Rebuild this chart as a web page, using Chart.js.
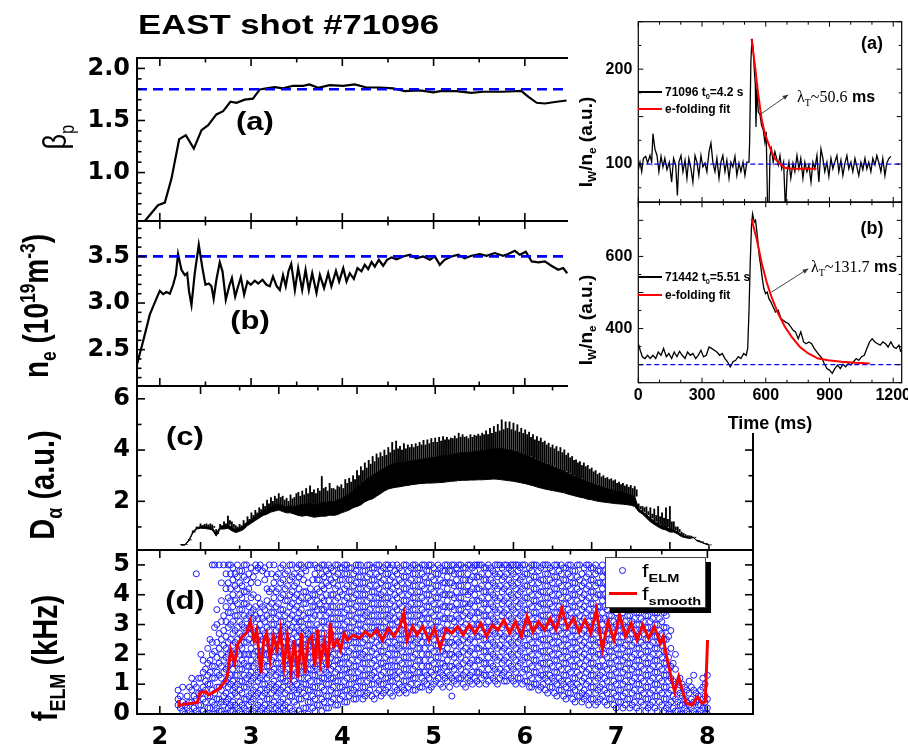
<!DOCTYPE html>
<html><head><meta charset="utf-8">
<script src="https://cdn.jsdelivr.net/npm/chart.js@4.4.1/dist/chart.umd.min.js"></script>
<style>
html,body{margin:0;padding:0;background:#fff;}
#wrap{position:relative;width:908px;height:748px;overflow:hidden;background:#fff;}
canvas{position:absolute;}
.t{position:absolute;white-space:nowrap;font-family:"Liberation Sans",Arial,sans-serif;color:#000;line-height:1;z-index:5;}
.t sub,.t sup{font-size:62%;line-height:0;}
.ln{position:absolute;z-index:5;}
</style></head><body><div id="wrap">
<canvas id="cA" width="760" height="203" style="left:0;top:38px;z-index:1"></canvas>
<canvas id="cB" width="760" height="205" style="left:0;top:201px;z-index:1"></canvas>
<canvas id="cC" width="760" height="204" style="left:0;top:366px;z-index:1"></canvas>
<canvas id="cD" width="760" height="218" style="left:0;top:530px;z-index:1"></canvas>
<div style="position:absolute;left:568px;top:0;width:340px;height:433px;background:#fff;z-index:2"></div>
<canvas id="iA" width="333" height="215" style="left:575px;top:0;z-index:3"></canvas>
<canvas id="iB" width="333" height="250" style="left:575px;top:190px;z-index:3"></canvas>

<div class="t" style="left:138px;top:25px;font-size:28px;font-weight:bold;transform:translateY(-50%) scaleX(1.24);transform-origin:left center;">EAST shot #71096</div>
<div class="t" style="left:255px;top:121px;font-size:25px;font-weight:bold;transform:translate(-50%,-50%) scaleX(1.24);">(a)</div>
<div class="t" style="left:250px;top:320px;font-size:25px;font-weight:bold;transform:translate(-50%,-50%) scaleX(1.24);">(b)</div>
<div class="t" style="left:185px;top:436px;font-size:25px;font-weight:bold;transform:translate(-50%,-50%) scaleX(1.24);">(c)</div>
<div class="t" style="left:185px;top:600px;font-size:25px;font-weight:bold;transform:translate(-50%,-50%) scaleX(1.24);">(d)</div>

<div class="t" style="left:56px;top:137px;font-size:27px;transform:translate(-50%,-50%) scaleX(1.2) rotate(-90deg);">β<sub>p</sub></div>
<div class="t" style="left:37px;top:306px;font-size:28px;font-weight:bold;transform:translate(-50%,-50%) scaleX(1.24) rotate(-90deg);">n<sub>e</sub> (10<sup>19</sup>m<sup>-3</sup>)</div>
<div class="t" style="left:42px;top:485px;font-size:29px;font-weight:bold;transform:translate(-50%,-50%) scaleX(1.24) rotate(-90deg);">D<sub>α</sub> (a.u.)</div>
<div class="t" style="left:45px;top:658px;font-size:29px;font-weight:bold;transform:translate(-50%,-50%) scaleX(1.24) rotate(-90deg);">f<sub>ELM</sub> (kHz)</div>

<div class="t" style="left:585px;top:142px;font-size:19px;font-weight:bold;transform:translate(-50%,-50%) rotate(-90deg);">I<sub>W</sub>/n<sub>e</sub> (a.u.)</div>
<div class="t" style="left:585px;top:320px;font-size:19px;font-weight:bold;transform:translate(-50%,-50%) rotate(-90deg);">I<sub>W</sub>/n<sub>e</sub> (a.u.)</div>
<div class="t" style="left:872px;top:43px;font-size:18px;font-weight:bold;transform:translate(-50%,-50%);">(a)</div>
<div class="t" style="left:872px;top:228px;font-size:18px;font-weight:bold;transform:translate(-50%,-50%);">(b)</div>

<div class="ln" style="left:638px;top:91px;width:24px;height:1.6px;background:#000"></div>
<div class="t" style="left:665px;top:92px;font-size:12px;font-weight:bold;transform:translateY(-50%);">71096 t<sub>0</sub>=4.2 s</div>
<div class="ln" style="left:638px;top:108px;width:24px;height:2.2px;background:#ff0000"></div>
<div class="t" style="left:665px;top:109px;font-size:12px;font-weight:bold;transform:translateY(-50%);">e-folding fit</div>
<div class="ln" style="left:638px;top:276px;width:24px;height:1.6px;background:#000"></div>
<div class="t" style="left:665px;top:277px;font-size:12px;font-weight:bold;transform:translateY(-50%);">71442 t<sub>0</sub>=5.51 s</div>
<div class="ln" style="left:638px;top:294px;width:24px;height:2.2px;background:#ff0000"></div>
<div class="t" style="left:665px;top:295px;font-size:12px;font-weight:bold;transform:translateY(-50%);">e-folding fit</div>
<div class="t" style="left:797px;top:97px;font-size:16px;transform:translateY(-50%);"><span style="font-family:'Liberation Serif',serif">λ<sub>T</sub>~50.6</span> <b>ms</b></div>
<div class="t" style="left:811px;top:267px;font-size:16px;transform:translateY(-50%);"><span style="font-family:'Liberation Serif',serif">λ<sub>T</sub>~131.7</span> <b>ms</b></div>

<div style="position:absolute;left:605px;top:557px;width:99px;height:49px;background:#fff;border:1px solid #444;box-shadow:5px 5px 0 #000;z-index:4"></div>
<div class="ln" style="left:619px;top:567px;width:5px;height:5px;border:1.3px solid #1a1aff;border-radius:50%"></div>
<div class="t" style="left:642px;top:561px;font-size:19px;transform:scaleX(1.24);transform-origin:left top;">f<sub style="font-weight:bold">ELM</sub></div>
<div class="ln" style="left:609px;top:592px;width:28px;height:3.2px;background:#ff0000"></div>
<div class="t" style="left:642px;top:584px;font-size:19px;transform:scaleX(1.24);transform-origin:left top;">f<sub style="font-weight:bold">smooth</sub></div>
</div>
<script>
// ---------------- DATA ----------------
const xRange = [1.75, 8.5];
const timeTicks = [2, 3, 4, 5, 6, 7, 8];
const betaTicks = [1.0, 1.5, 2.0];
const neTicks = [2.5, 3.0, 3.5];
const daTicks = [2, 4, 6];
const fTicks = [0, 1, 2, 3, 4, 5];
const insTimeTicks = [0, 300, 600, 900, 1200];
const insATicks = [100, 200];
const insBTicks = [400, 600];
const betaRef = 1.8;
const neRef = 3.5;
const insABase = 100;
const insBBase = 300;

const betaP = [[1.836,0.535],[1.98,0.686],[2.055,0.712],[2.128,0.942],[2.212,1.32],[2.285,1.359],[2.373,1.23],[2.457,1.407],[2.53,1.455],[2.62,1.558],[2.694,1.59],[2.774,1.68],[2.84,1.67],[2.93,1.70],[3.02,1.71],[3.096,1.798],[3.17,1.808],[3.26,1.82],[3.35,1.808],[3.46,1.833],[3.57,1.833],[3.64,1.846],[3.735,1.814],[3.86,1.84],[4.01,1.833],[4.137,1.846],[4.265,1.817],[4.41,1.817],[4.557,1.808],[4.685,1.782],[4.85,1.79],[5.0,1.77],[5.087,1.785],[5.25,1.782],[5.415,1.766],[5.54,1.776],[5.76,1.776],[5.96,1.785],[6.04,1.727],[6.13,1.67],[6.22,1.663],[6.35,1.68],[6.457,1.692]];

const neVals = [[1.744,2.32],[1.817,2.59],[1.89,2.875],[1.964,3.05],[2.0,3.13],[2.037,3.096],[2.073,3.118],[2.11,3.10],[2.146,3.196],[2.175,3.30],[2.20,3.525],[2.237,3.357],[2.274,3.30],[2.30,3.32],[2.32,3.125],[2.347,2.98],[2.383,3.32],[2.427,3.625],[2.467,3.375],[2.50,3.196],[2.537,3.21],[2.566,3.18],[2.59,3.046],[2.62,3.25],[2.657,3.436],[2.687,3.34],[2.723,3.036],[2.76,3.18],[2.79,3.268],[2.826,3.07],[2.858,3.18],[2.888,3.275],[2.924,3.09],[2.96,3.23],[2.997,3.196],[3.04,3.24],[3.078,3.21],[3.125,3.25],[3.169,3.196],[3.205,3.18],[3.24,3.285],[3.28,3.18],[3.315,3.14],[3.35,3.30],[3.38,3.18],[3.41,3.34],[3.44,3.42],[3.48,3.14],[3.516,3.375],[3.56,3.14],[3.597,3.357],[3.633,3.14],[3.67,3.32],[3.717,3.107],[3.754,3.30],[3.80,3.16],[3.845,3.32],[3.88,3.18],[3.93,3.345],[3.965,3.23],[4.01,3.375],[4.046,3.23],[4.082,3.32],[4.126,3.26],[4.166,3.375],[4.21,3.34],[4.246,3.41],[4.283,3.364],[4.32,3.44],[4.356,3.39],[4.40,3.464],[4.447,3.40],[4.49,3.464],[4.54,3.49],[4.594,3.47],[4.667,3.50],[4.74,3.518],[4.81,3.48],[4.886,3.50],[4.96,3.464],[5.014,3.50],[5.068,3.41],[5.12,3.464],[5.196,3.50],[5.27,3.518],[5.34,3.48],[5.415,3.507],[5.507,3.525],[5.58,3.507],[5.67,3.536],[5.763,3.507],[5.817,3.525],[5.89,3.56],[5.945,3.518],[6.01,3.55],[6.075,3.446],[6.15,3.436],[6.22,3.446],[6.29,3.40],[6.366,3.357],[6.42,3.375],[6.464,3.32]];

// D_alpha: [time, bottom, solid top, spike at t, spike at t+0.025]
const dAlpha = [[1.75,.29,.31,.31,.31],[1.80,.29,.31,.31,.31],[1.85,.45,.49,.51,.5],[1.90,.75,.8,.85,.82],[1.95,.92,.97,1.0,.98],[2.00,.95,1.02,1.12,1.06],[2.05,.94,1.02,1.1,1.12],[2.10,.92,1.0,1.08,1.12],[2.15,.88,.98,1.08,1.02],[2.20,.64,.74,.9,.82],[2.25,.92,1.0,1.1,1.05],[2.30,.92,1.02,1.2,1.12],[2.35,.95,1.1,1.42,1.25],[2.40,.85,.98,1.2,1.1],[2.45,.78,.9,1.05,1.0],[2.50,.83,.95,1.1,1.05],[2.55,.9,1.05,1.25,1.15],[2.60,1.05,1.2,1.4,1.3],[2.65,1.15,1.3,1.55,1.45],[2.70,1.25,1.42,1.65,1.55],[2.75,1.35,1.52,1.75,1.68],[2.80,1.45,1.62,1.9,1.8],[2.85,1.5,1.72,2.05,1.9],[2.90,1.58,1.8,2.15,2.0],[2.95,1.62,1.85,2.2,2.1],[3.00,1.66,1.9,2.3,2.15],[3.05,1.6,1.85,2.2,2.05],[3.10,1.55,1.8,2.12,2.0],[3.15,1.55,1.82,2.25,2.1],[3.20,1.5,1.8,2.15,2.3],[3.25,1.45,1.85,2.35,2.2],[3.30,1.42,1.88,2.4,2.25],[3.35,1.45,1.9,2.5,2.3],[3.40,1.42,1.92,2.6,2.35],[3.45,1.38,1.88,2.45,2.3],[3.50,1.4,1.9,2.5,2.4],[3.55,1.42,1.95,2.97,2.5],[3.60,1.42,1.95,2.55,2.4],[3.65,1.46,2.0,2.7,2.5],[3.70,1.45,1.98,2.5,2.45],[3.75,1.48,2.05,2.6,2.55],[3.80,1.55,2.1,2.65,2.5],[3.85,1.6,2.2,2.85,2.7],[3.90,1.66,2.3,2.9,2.75],[3.95,1.75,2.42,3.0,2.85],[4.00,1.8,2.55,3.2,3.0],[4.05,1.86,2.68,3.35,3.2],[4.10,1.98,2.8,3.5,3.3],[4.15,2.05,2.92,3.6,3.45],[4.20,2.1,3.02,3.75,3.55],[4.25,2.2,3.12,3.85,3.7],[4.30,2.3,3.2,3.9,3.75],[4.35,2.4,3.3,4.0,3.8],[4.40,2.48,3.38,4.1,3.9],[4.45,2.52,3.45,4.3,4.0],[4.50,2.55,3.5,4.35,4.05],[4.55,2.57,3.5,4.15,4.0],[4.60,2.6,3.52,4.25,4.05],[4.65,2.62,3.55,4.2,4.1],[4.70,2.65,3.58,4.22,4.1],[4.75,2.67,3.6,4.25,4.15],[4.80,2.69,3.62,4.3,4.2],[4.85,2.7,3.65,4.38,4.2],[4.90,2.71,3.68,4.4,4.25],[4.95,2.71,3.7,4.45,4.3],[5.00,2.72,3.72,4.47,4.3],[5.05,2.73,3.75,4.5,4.35],[5.10,2.74,3.78,4.53,4.4],[5.15,2.76,3.8,4.5,4.4],[5.20,2.78,3.82,4.47,4.45],[5.25,2.79,3.85,4.55,4.45],[5.30,2.81,3.88,4.66,4.5],[5.35,2.82,3.9,4.6,4.5],[5.40,2.82,3.9,4.53,4.45],[5.45,2.83,3.92,4.6,4.5],[5.50,2.83,3.93,4.58,4.55],[5.55,2.84,3.95,4.62,4.55],[5.60,2.84,3.97,4.66,4.6],[5.65,2.85,4.0,4.75,4.6],[5.70,2.86,4.02,4.85,4.65],[5.75,2.87,4.05,4.92,4.7],[5.80,2.86,4.05,5.0,4.75],[5.85,2.84,4.05,5.18,4.8],[5.90,2.82,4.03,5.1,4.85],[5.95,2.8,4.0,5.1,4.8],[6.00,2.78,3.98,5.05,4.75],[6.05,2.75,3.92,4.99,4.7],[6.10,2.72,3.87,4.85,4.65],[6.15,2.69,3.82,4.79,4.6],[6.20,2.65,3.76,4.7,4.5],[6.25,2.61,3.7,4.6,4.4],[6.30,2.56,3.63,4.53,4.35],[6.35,2.52,3.56,4.47,4.3],[6.40,2.48,3.5,4.35,4.2],[6.45,2.45,3.43,4.27,4.1],[6.50,2.42,3.37,4.2,4.05],[6.55,2.39,3.3,4.14,3.95],[6.60,2.36,3.24,4.1,3.9],[6.65,2.33,3.18,4.01,3.8],[6.70,2.28,3.1,3.88,3.7],[6.75,2.24,3.03,3.75,3.6],[6.80,2.2,2.96,3.62,3.5],[6.85,2.16,2.9,3.55,3.4],[6.90,2.13,2.84,3.5,3.35],[6.95,2.08,2.78,3.4,3.25],[7.00,2.06,2.72,3.3,3.15],[7.05,2.02,2.66,3.2,3.05],[7.10,1.99,2.6,3.1,2.95],[7.15,1.97,2.55,3.0,2.9],[7.20,1.95,2.5,2.93,2.85],[7.25,1.93,2.46,2.88,2.8],[7.30,1.91,2.42,2.84,2.7],[7.35,1.9,2.38,2.75,2.65],[7.40,1.89,2.34,2.7,2.6],[7.45,1.87,2.3,2.65,2.55],[7.50,1.85,2.26,2.62,2.5],[7.55,1.8,2.2,2.58,2.45],[7.60,1.6,1.7,1.9,1.8],[7.65,1.5,1.6,1.8,1.75],[7.70,1.35,1.48,1.78,1.6],[7.75,1.2,1.35,1.75,1.5],[7.80,1.1,1.22,1.7,1.45],[7.85,1.0,1.12,1.8,1.4],[7.90,.92,1.05,1.55,1.35],[7.95,.88,1.0,1.75,1.3],[8.00,.8,.92,1.8,1.2],[8.05,.8,.88,1.2,1.0],[8.10,.72,.8,1.0,.9],[8.15,.62,.7,.8,.75],[8.20,.58,.62,.7,.66],[8.25,.55,.6,.66,.64],[8.30,.58,.59,.6,.6],[8.35,.45,.46,.48,.47],[8.40,.4,.41,.42,.42],[8.45,.34,.35,.35,.35],[8.50,.29,.3,.3,.3]];

const fSmooth = [[2.206,0.47],[2.21,0.28],[2.283,0.34],[2.41,0.38],[2.441,0.72],[2.504,0.75],[2.536,0.64],[2.599,0.75],[2.651,0.86],[2.694,1.01],[2.726,1.14],[2.745,1.36],[2.777,2.15],[2.821,1.70],[2.853,2.32],[2.904,2.60],[2.948,2.71],[2.992,3.10],[3.031,2.48],[3.062,2.82],[3.107,1.36],[3.138,2.48],[3.170,2.71],[3.208,1.81],[3.246,2.60],[3.285,2.15],[3.322,2.82],[3.360,1.59],[3.398,2.60],[3.437,1.42],[3.474,2.48],[3.513,1.20],[3.551,2.71],[3.589,1.36],[3.627,2.48],[3.665,2.60],[3.697,1.59],[3.728,2.82],[3.760,1.70],[3.804,2.48],[3.842,1.53],[3.867,3.06],[3.906,2.26],[3.944,2.48],[3.982,2.15],[4.020,2.71],[4.058,2.48],[4.122,2.65],[4.185,2.54],[4.248,2.76],[4.312,2.60],[4.376,2.82],[4.438,2.48],[4.502,2.87],[4.565,2.60],[4.629,2.93],[4.674,3.38],[4.711,2.48],[4.768,2.93],[4.819,2.65],[4.883,2.93],[4.946,2.48],[5.010,2.87],[5.072,2.20],[5.136,2.87],[5.199,2.71],[5.263,2.93],[5.326,2.65],[5.390,2.99],[5.453,2.71],[5.517,3.04],[5.580,2.60],[5.644,2.99],[5.706,2.82],[5.770,3.15],[5.833,2.71],[5.897,3.10],[5.961,2.60],[6.024,3.27],[6.088,2.76],[6.151,3.10],[6.215,2.82],[6.278,3.21],[6.341,2.82],[6.404,3.55],[6.468,2.87],[6.531,3.21],[6.595,2.76],[6.658,3.15],[6.722,2.71],[6.785,3.49],[6.849,2.15],[6.911,3.10],[6.975,2.48],[7.038,3.32],[7.102,2.60],[7.165,3.04],[7.229,2.48],[7.292,2.99],[7.356,2.54],[7.419,2.93],[7.483,2.37],[7.515,2.60],[7.546,2.04],[7.609,1.14],[7.641,0.75],[7.686,1.25],[7.724,0.81],[7.768,0.36],[7.832,0.30],[7.895,0.58],[7.940,0.36],[7.977,0.41],[8.002,2.48]];

// f_ELM scatter: [time, "values x10"]
const fElmCols = [
[2.20,"3 5 8"],[2.25,"1 4 9"],[2.30,"2 6"],[2.35,"0 4 8 12"],[2.40,"1 5 9 47"],[2.45,"3 7 12 20"],[2.50,"0 4 8 11 15"],[2.55,"2 6 10 14 18 25"],
[2.60,"0 3 7 12 16 21 29 50"],[2.65,"1 5 9 13 17 22 27 50"],[2.70,"0 3 6 10 14 18 23 28 33 50"],[2.75,"2 5 9 12 16 20 24 29 34 39 44 50"],
[2.80,"1 4 8 11 15 19 23 27 31 36 40 45 49"],[2.85,"2 6 10 13 17 21 25 29 33 37 42 46 50"],[2.90,"0 3 7 11 15 18 22 26 30 35 39 43 48"],[2.95,"1 5 9 12 16 20 24 28 32 37 41 45 50"],
[3.00,"0 4 7 11 14 18 22 27 31 34 39 44 49"],[3.05,"2 6 9 13 17 21 25 29 33 36 48 50"],[3.10,"1 4 8 12 15 19 23 26 30 34 37 50"],[3.15,"0 3 7 10 14 18 22 27 31 35 45 49"],
[3.20,"2 5 9 13 16 20 24 28 32 36 41 50"],[3.25,"0 4 8 11 15 19 23 26 30 34 39 44 50"],[3.30,"1 3 7 10 14 17 21 25 29 33 37 42 47"],[3.35,"2 5 9 12 16 20 24 28 31 35 40 45 50"],
[3.40,"0 4 8 11 15 18 22 26 30 34 38 43 48"],[3.45,"1 6 9 13 17 21 25 29 33 37 41 46 50"],[3.50,"3 7 10 14 18 22 26 29 32 36 40 44 49"],[3.55,"0 5 9 12 16 19 23 27 31 35 39 47 50"],
[3.60,"2 6 10 14 17 21 25 28 32 37 41 48"],[3.65,"4 8 11 15 19 23 26 30 34 38 42 50"],[3.70,"1 5 9 13 16 20 24 28 33 36 40 47 50"],[3.75,"3 7 11 14 18 22 25 29 33 37 41 45 49"],
[3.80,"4 8 12 15 19 23 27 31 35 38 42 46 50"],[3.85,"2 6 10 13 17 21 25 30 34 38 43 47 50"],[3.90,"5 9 12 16 20 24 28 32 36 40 44 48"],[3.95,"3 7 11 15 18 22 26 30 34 39 43 47 50"],
[4.00,"6 9 13 17 21 25 28 32 36 40 45 49"],[4.05,"4 8 12 15 19 23 27 31 35 39 43 47 50"],[4.10,"7 10 14 18 22 26 29 33 37 41 45 49"],[4.15,"5 9 12 16 20 24 28 32 36 40 44 48 50"],
[4.20,"7 11 15 19 22 26 30 34 38 42 46 50"],[4.25,"6 9 13 17 21 25 29 33 36 40 44 48"],[4.30,"8 12 15 19 23 27 31 35 39 43 47 50"],[4.35,"5 10 14 18 22 26 29 33 37 41 45 49"],
[4.40,"8 11 15 19 23 27 31 35 39 42 46 50"],[4.45,"7 10 14 17 21 25 29 33 37 41 45 49"],[4.50,"9 12 16 20 24 28 32 35 39 43 47 50"],[4.55,"6 11 14 18 22 26 30 34 38 42 46 50"],
[4.60,"8 12 16 20 23 27 31 35 39 43 47 50"],[4.65,"9 13 17 21 25 28 32 36 40 44 48"],[4.70,"7 11 15 19 23 27 31 35 38 42 46 50"],[4.75,"10 13 17 21 25 29 33 37 41 45 49"],
[4.80,"8 12 16 20 24 27 31 35 39 43 47 50"],[4.85,"9 14 18 22 26 30 33 37 41 45 49"],[4.90,"11 14 18 22 26 30 34 38 42 46 50"],[4.95,"8 12 16 20 24 28 32 36 40 44 48 50"],
[5.00,"10 13 17 21 25 29 33 37 41 45 49"],[5.05,"12 15 19 23 27 31 35 39 43 47 50"],[5.10,"9 13 17 21 24 28 32 36 40 44 48"],[5.15,"11 14 18 22 26 30 34 38 42 46 50"],
[5.20,"6 12 16 20 24 28 32 36 40 44 48 50"],[5.25,"10 13 17 21 25 29 33 37 41 45 49"],[5.30,"12 15 19 23 27 31 35 39 43 47 50"],[5.35,"9 14 18 22 26 30 34 37 41 45 49"],
[5.40,"11 13 17 21 25 29 33 37 41 45 50"],[5.45,"12 16 20 24 28 32 36 40 44 48 50"],[5.50,"10 14 18 22 26 30 34 38 42 46 50"],[5.55,"13 17 21 25 29 33 37 41 45 49"],
[5.60,"11 15 19 23 27 31 35 39 43 47 50"],[5.65,"12 16 20 24 28 32 36 40 44 48"],[5.70,"10 14 18 22 26 30 34 38 42 46 50"],[5.75,"13 17 21 25 29 33 37 41 45 49"],
[5.80,"11 15 19 23 27 31 35 39 43 47 50"],[5.85,"12 16 20 24 28 32 36 40 44 48 50"],[5.90,"10 14 18 22 26 30 34 38 42 46 50"],[5.95,"12 17 21 25 29 33 37 41 45 49"],
[6.00,"11 15 19 23 27 31 35 39 43 47 50"],[6.05,"9 13 17 21 25 29 33 37 41 45 49"],[6.10,"10 14 18 22 26 30 34 38 42 46 50"],[6.15,"8 12 16 20 24 28 32 36 40 44 48"],
[6.20,"10 13 17 21 25 29 33 37 41 45 50"],[6.25,"7 11 15 19 23 27 31 35 39 43 47 50"],[6.30,"9 12 16 20 24 28 32 36 40 44 48"],[6.35,"6 10 14 18 22 26 30 34 38 42 46 50"],
[6.40,"8 11 15 19 23 27 31 35 39 43 47 50"],[6.45,"5 9 13 17 21 25 29 33 37 41 45 49"],[6.50,"7 10 14 18 22 26 30 34 38 42 46 50"],[6.55,"4 8 12 16 20 24 28 32 36 40 44 48"],
[6.60,"6 9 13 17 21 25 29 33 37 41 45 50"],[6.65,"5 8 12 16 20 24 28 32 36 40 44 49"],[6.70,"3 7 11 15 19 23 27 31 35 39 43 47 50"],[6.75,"5 9 13 17 21 25 29 33 37 41 45 49"],
[6.80,"4 8 12 16 20 24 28 32 36 40 44 48"],[6.85,"6 10 14 18 22 26 30 34 38 42 46 50"],[6.90,"3 7 11 15 19 23 27 31 35 39 43 47"],[6.95,"5 9 13 17 21 25 29 33 37 41 45 49"],
[7.00,"2 6 10 14 18 22 26 30 34 38 42 46 50"],[7.05,"4 8 12 16 20 24 28 32 36 40 44 48"],[7.10,"3 7 11 15 19 23 27 31 35 39 43 47 50"],[7.15,"2 5 9 13 17 21 25 29 33 37 41 45"],
[7.20,"4 8 12 16 20 24 28 32 36 40 44 49"],[7.25,"1 6 10 14 18 22 26 30 34 38 42 46"],[7.30,"3 7 11 15 19 23 27 31 35 39 43 48"],[7.35,"2 5 9 13 17 21 25 29 33 37 41 45"],
[7.40,"4 8 12 16 20 24 28 32 36 40 44"],[7.45,"1 6 10 14 18 22 26 30 34 38 42"],[7.50,"3 7 11 15 19 23 27 31 35 40"],[7.55,"2 5 9 13 17 21 25 29 33"],
[7.60,"0 4 8 12 16 22 28"],[7.65,"1 5 10 15 20"],[7.70,"0 3 7 12"],[7.75,"2 5 9"],[7.80,"0 3 7 11"],[7.85,"1 4 8 13"],[7.90,"0 3 6"],[7.95,"2 5 9 12"],[8.00,"0 2 5 13"]
];
const fElmCols2 = [
[2.225,"2 6"],[2.275,"0 3"],[2.325,"1 4 9"],[2.375,"2 6 10"],[2.425,"0 3 7 12"],[2.475,"1 5 9 14 18"],[2.525,"2 6 10 13 17 22"],[2.575,"0 4 8 12 16 20 24 50"],
[2.625,"2 5 9 14 19 24 30 35"],[2.675,"1 4 8 12 16 20 25 31 38 44"],[2.725,"0 4 7 11 15 19 22 26 31 36 42 47"],[2.775,"1 3 6 10 13 17 21 25 30 34 38 42 47 50"],
[2.825,"0 3 7 9 13 17 20 24 28 33 38 43 47"],[2.875,"1 4 8 11 15 20 23 27 31 35 40 44 48"],[2.925,"2 5 9 13 17 20 24 29 33 37 41 46 50"],[2.975,"0 3 6 10 13 16 20 25 29 33 36 42 47"],
[3.025,"1 5 8 12 16 20 24 28 32 35 40 46"],[3.075,"0 3 7 11 14 18 21 25 28 32 39 44 49"],[3.125,"2 6 10 13 17 21 25 28 32 36 48"],[3.175,"1 5 8 12 16 20 24 29 33 38 42 47"],
[3.225,"0 3 7 10 14 18 22 26 30 34 37 42 47"],[3.275,"2 6 9 13 17 21 25 28 32 36 41 46"],[3.325,"0 4 8 12 15 19 23 27 31 35 39 44 49"],[3.375,"1 3 7 11 14 18 22 26 29 33 38 42 47"],
[3.425,"2 6 10 13 17 20 24 28 32 36 40 45 50"],[3.475,"0 4 8 11 15 19 23 27 31 35 39 43 47"],[3.525,"1 5 8 12 16 20 24 28 31 34 38 42 46 50"],[3.575,"2 7 10 14 18 21 25 29 33 37 41 45 49"],
[3.625,"0 4 8 12 15 19 23 27 30 34 39 44 50"],[3.675,"2 6 9 13 17 21 24 28 32 36 40 45"],[3.725,"3 7 11 15 18 22 26 30 35 38 42 45 49"],[3.775,"1 5 9 12 16 20 24 27 31 35 39 43 47 50"],
[3.825,"2 6 10 14 17 21 25 29 33 36 40 44 48"],[3.875,"4 8 12 15 19 23 27 32 36 40 45 49"],[3.925,"3 7 11 14 18 22 26 30 34 38 42 46 50"],[3.975,"5 9 13 17 20 24 28 32 36 41 45 49"],
[4.025,"4 8 11 15 19 23 27 30 34 38 42 47 50"],[4.075,"6 10 14 17 21 25 29 33 37 41 45 49"],[4.125,"5 8 12 16 20 24 27 31 35 39 43 47"],[4.175,"7 11 14 18 22 26 30 34 38 42 46 50"],
[4.225,"5 9 13 17 20 24 28 32 36 40 44 48"],[4.275,"7 11 15 19 23 27 31 34 38 42 46 50"],[4.325,"6 10 13 17 21 25 29 33 37 41 45 49"],[4.375,"7 12 16 20 24 28 31 35 39 43 47 50"],
[4.425,"6 10 13 17 21 25 29 33 37 40 44 48"],[4.475,"8 12 16 19 23 27 31 35 39 43 47 50"],[4.525,"7 11 14 18 22 26 30 33 37 41 45 49"],[4.575,"9 13 16 20 24 28 32 36 40 44 48"],
[4.625,"7 10 14 18 22 25 29 33 37 41 45 49"],[4.675,"8 11 15 19 23 27 30 34 38 42 46 50"],[4.725,"9 13 17 21 25 29 33 36 40 44 48"],[4.775,"8 12 15 19 23 27 31 35 39 43 47 50"],
[4.825,"10 14 18 22 25 29 33 37 41 45 49"],[4.875,"9 12 16 20 24 28 32 35 39 43 47 50"],[4.925,"10 13 16 20 24 28 32 36 40 44 48"],[4.975,"9 14 18 22 26 30 34 38 42 46 50"],
[5.025,"11 15 19 23 27 31 35 39 43 47"],[5.075,"10 14 17 21 25 29 33 37 41 45 49"],[5.125,"12 16 20 24 28 32 36 40 44 48 50"],[5.175,"9 13 16 20 24 28 32 36 40 44 48"],
[5.225,"11 15 19 23 27 31 35 39 43 47 50"],[5.275,"12 16 20 24 28 32 35 39 43 47 50"],[5.325,"10 13 17 21 25 29 33 37 41 45 49"],[5.375,"12 16 20 24 28 32 36 40 43 47 50"],
[5.425,"10 14 18 22 26 30 34 38 42 46 49"],[5.475,"11 14 18 22 26 30 34 38 42 46 50"],[5.525,"12 15 19 23 27 31 35 39 43 47 50"],[5.575,"10 13 17 21 25 29 33 37 41 45 49"],
[5.625,"13 17 21 25 29 33 37 41 45 49"],[5.675,"11 15 19 23 27 31 35 39 43 47 50"],[5.725,"12 15 19 23 27 31 35 39 43 47 50"],[5.775,"11 14 18 22 26 30 34 38 42 46 50"],
[5.825,"13 17 21 25 29 33 37 41 45 49"],[5.875,"11 15 19 23 27 31 35 39 43 47 50"],[5.925,"12 16 20 24 28 32 36 40 44 48 50"],[5.975,"10 14 18 22 26 30 34 38 42 46 50"],
[6.025,"11 15 19 23 27 31 35 39 43 47"],[6.075,"9 12 16 20 24 28 32 36 40 44 48 50"],[6.125,"10 14 18 22 26 30 34 38 42 46 50"],[6.175,"9 13 17 21 25 29 33 37 41 45 49"],
[6.225,"8 12 15 19 23 27 31 35 39 43 47 50"],[6.275,"9 13 17 21 25 29 33 37 41 45 49"],[6.325,"7 11 14 18 22 26 30 34 38 42 46 50"],[6.375,"8 12 16 20 24 28 32 36 40 44 48"],
[6.425,"6 10 13 17 21 25 29 33 37 41 45 49"],[6.475,"7 11 15 19 23 27 31 35 39 43 47 50"],[6.525,"5 9 12 16 20 24 28 32 36 40 44 48"],[6.575,"6 10 14 18 22 26 30 34 38 42 46 50"],
[6.625,"4 7 11 15 19 23 27 31 35 39 43 47"],[6.675,"6 10 14 18 22 26 30 34 38 42 46 50"],[6.725,"5 9 13 17 21 25 29 33 37 41 45 49"],[6.775,"3 7 11 15 19 23 27 31 35 39 43 47 50"],
[6.825,"5 9 13 16 20 24 28 32 36 40 44 48"],[6.875,"4 8 12 16 20 24 28 32 36 40 44 48"],[6.925,"5 9 13 17 21 25 29 33 37 41 45 49"],[6.975,"3 7 11 15 19 23 27 31 35 39 43 47"],
[7.025,"4 8 12 16 20 24 28 32 36 40 44 48"],[7.075,"2 6 10 14 18 22 26 30 34 38 42 46 50"],[7.125,"5 9 13 17 21 25 29 33 37 41 45"],[7.175,"3 7 11 15 19 23 27 31 35 39 43 47"],
[7.225,"2 6 10 14 18 22 26 30 34 38 42 47"],[7.275,"4 8 12 16 20 24 28 32 36 40 44"],[7.325,"1 5 9 13 17 21 25 29 33 37 41 45"],[7.375,"3 7 11 15 19 23 27 31 35 39 43"],
[7.425,"2 6 10 14 18 22 26 30 34 38 41"],[7.475,"4 8 12 16 20 24 28 32 36"],[7.525,"1 5 9 13 17 21 25 29 34"],[7.575,"0 3 7 11 15 19 26"],
[7.625,"2 6 11 17"],[7.675,"1 4 8"],[7.725,"0 3 6 10"],[7.775,"1 4 8"],[7.825,"2 5 9"],[7.875,"0 4 7"],[7.925,"1 3 8"],[7.975,"0 4 6 10"]
];

// inset (a): shot 71096, time in ms
const insA = [[0,94],[8,102],[16,92],[24,106],[35,108],[44,101],[55,109],[63,102],[69,132],[78,116],[88,109],[97,92],[107,108],[116,97],[125,106],[135,94],[146,102],[157,81],[166,106],[176,99],[184,67],[191,102],[201,109],[210,92],[220,104],[229,85],[238,106],[248,95],[257,81],[267,109],[276,102],[285,88],[295,109],[304,97],[314,101],[323,92],[333,113],[342,122],[351,102],[361,92],[370,106],[380,85],[389,102],[398,109],[408,92],[417,104],[427,85],[436,102],[445,97],[455,108],[464,88],[474,101],[483,92],[493,102],[502,88],[511,102],[521,102],[524,123],[530,208],[535,232],[541,222],[546,200],[551,183],[554,139],[558,179],[565,155],[573,152],[580,141],[588,136],[596,123],[602,134],[609,50],[615,50],[620,109],[627,116],[635,102],[643,113],[651,106],[659,99],[667,109],[675,95],[684,102],[693,50],[701,92],[709,102],[718,85],[728,101],[737,92],[747,109],[756,95],[765,106],[775,85],[784,102],[794,92],[803,99],[813,81],[822,102],[831,95],[841,109],[850,81],[860,116],[869,106],[878,92],[888,102],[897,87],[907,106],[916,95],[925,102],[935,109],[944,92],[954,104],[963,88],[973,101],[982,109],[991,95],[1001,102],[1010,92],[1020,106],[1029,97],[1038,88],[1048,102],[1057,94],[1067,106],[1076,95],[1085,102],[1095,92],[1104,106],[1114,99],[1123,109],[1133,101],[1142,92],[1151,106],[1161,88],[1170,101],[1180,106],[1189,108]];
const insAFit = [[533,232],[549,204],[565,173],[580,148],[596,132],[612,122],[627,113],[643,106],[667,100],[690,96],[722,95],[769,95],[839,95]];

// inset (b): shot 71442
const insB = [[0,358],[9,340],[19,322],[31,317],[44,326],[56,317],[69,326],[82,317],[94,335],[107,326],[119,345],[132,322],[144,331],[157,317],[169,335],[182,322],[194,337],[207,326],[220,317],[232,335],[245,326],[257,331],[270,317],[282,326],[295,340],[307,322],[320,326],[333,349],[345,345],[358,340],[370,335],[383,326],[395,331],[408,317],[420,308],[433,294],[446,308],[458,312],[471,322],[483,317],[496,331],[508,326],[515,345],[521,446],[527,584],[533,686],[538,718],[546,695],[552,700],[562,649],[569,603],[576,575],[584,538],[591,511],[599,497],[607,501],[615,483],[624,474],[635,460],[646,446],[659,451],[671,428],[682,423],[693,418],[706,414],[718,405],[729,395],[740,391],[753,372],[765,391],[778,363],[790,358],[803,363],[816,358],[828,345],[841,335],[853,326],[866,317],[875,303],[888,289],[900,285],[913,276],[925,289],[938,299],[951,289],[963,301],[976,294],[988,303],[1001,299],[1013,308],[1026,317],[1038,312],[1051,322],[1064,326],[1076,345],[1089,363],[1101,372],[1114,363],[1127,358],[1139,354],[1151,363],[1164,358],[1176,349],[1189,363],[1202,349],[1214,345],[1227,354],[1236,335]];
const insBFit = [[533,704],[557,649],[580,584],[604,529],[627,488],[659,441],[690,405],[722,377],[761,349],[800,331],[847,317],[894,312],[957,308],[1020,305],[1090,303]];

const arrowA = {from:[573,152], to:[706,173]};
const arrowB = {from:[627,501], to:[800,566]};

// ---------------- HELPERS ----------------
const P = a => a.map(p => ({x:p[0], y:p[1]}));
const fElmPts = [];
fElmCols.concat(fElmCols2).forEach(([t, s]) => s.split(' ').forEach(v => fElmPts.push({x:t, y:Number(v)/10})));
const daSpikes = [];
dAlpha.forEach(r => { daSpikes.push({x:r[0], y:[r[2], r[3]]}); daSpikes.push({x:r[0] + 0.025, y:[r[2], r[4]]}); });

const setTicks = arr => (s => { s.ticks = arr.map(v => ({value:v})); });

const framePlugin = {
  id: 'frame',
  afterDraw(chart, args, o) {
    const {ctx, chartArea: a} = chart;
    const xs = chart.scales.x, ys = chart.scales.y;
    ctx.save();
    ctx.strokeStyle = '#000';
    ctx.lineWidth = o.tw;
    const seg = (x1,y1,x2,y2) => { ctx.beginPath(); ctx.moveTo(x1,y1); ctx.lineTo(x2,y2); ctx.stroke(); };
    const each = (sc, minor, major, fn) => {
      const i0 = Math.ceil(sc.min/minor - 1e-6), i1 = Math.floor(sc.max/minor + 1e-6);
      for (let i = i0; i <= i1; i++) {
        const v = i*minor;
        const isMaj = Math.abs(v/major - Math.round(v/major)) < 1e-6;
        fn(sc.getPixelForValue(v), isMaj ? o.maj : o.min);
      }
    };
    each(xs, o.xMinor, o.xMajor, (p, L) => { seg(p, a.top, p, a.top + L); seg(p, a.bottom, p, a.bottom - L); });
    each(ys, o.yMinor, o.yMajor, (p, L) => { seg(a.left, p, a.left + L, p); seg(a.right, p, a.right - L, p); });
    ctx.lineWidth = o.lw;
    ctx.strokeRect(a.left, a.top, a.right - a.left, a.bottom - a.top);
    ctx.restore();
  }
};

const arrowPlugin = {
  id: 'arrow',
  afterDatasetsDraw(chart, args, o) {
    if (!o || !o.from) return;
    const {ctx} = chart; const xs = chart.scales.x, ys = chart.scales.y;
    const x1 = xs.getPixelForValue(o.from[0]), y1 = ys.getPixelForValue(o.from[1]);
    const x2 = xs.getPixelForValue(o.to[0]), y2 = ys.getPixelForValue(o.to[1]);
    const ang = Math.atan2(y2 - y1, x2 - x1), h = 6;
    ctx.save();
    ctx.strokeStyle = '#333'; ctx.fillStyle = '#333'; ctx.lineWidth = 0.9;
    ctx.beginPath(); ctx.moveTo(x1, y1); ctx.lineTo(x2, y2); ctx.stroke();
    ctx.beginPath(); ctx.moveTo(x2, y2);
    ctx.lineTo(x2 - h*Math.cos(ang - 0.4), y2 - h*Math.sin(ang - 0.4));
    ctx.lineTo(x2 - h*Math.cos(ang + 0.4), y2 - h*Math.sin(ang + 0.4));
    ctx.closePath(); ctx.fill();
    ctx.restore();
  }
};

const mainFont = {family:'DejaVu Sans', weight:'bold', size:24};

function mainPanel(id, datasets, y, frame, showX, padBottom) {
  return new Chart(document.getElementById(id), {
    type: 'line',
    data: {datasets},
    options: {
      responsive: false, animation: false, events: [],
      layout: {padding: {left:0, right:7, top:20, bottom:padBottom}},
      elements: {line: {tension: 0}},
      plugins: {legend: {display:false}, tooltip: {enabled:false}, frame},
      scales: {
        x: {type:'linear', min:xRange[0], max:xRange[1], display:showX,
            grid:{display:false, drawTicks:false}, border:{display:false},
            ticks:{autoSkip:false, maxRotation:0, padding:9, color:'#000', font:mainFont, callback:v => String(v)},
            afterBuildTicks: setTicks(timeTicks),
            afterFit(s){ if (showX) s.height = 34; s.paddingLeft = 0; s.paddingRight = 0; }},
        y: {type:'linear', min:y.min, max:y.max,
            grid:{display:false, drawTicks:false}, border:{display:false},
            ticks:{autoSkip:false, padding:7, color:'#000', font:mainFont, callback:y.fmt},
            afterBuildTicks: setTicks(y.ticks),
            afterFit(s){ s.width = 137; s.paddingTop = 0; s.paddingBottom = 0; }}
      }
    },
    plugins: [framePlugin]
  });
}

const fr = (xMajor, xMinor, yMajor, yMinor) => ({lw:2, tw:1.6, maj:8, min:4.5, xMajor, xMinor, yMajor, yMinor});
const dashLine = (yv) => ({data:P([[xRange[0], yv],[xRange[1], yv]]), borderColor:'#0000ff', borderWidth:2.6, borderDash:[10,6], pointRadius:0, fill:false});

// (a) beta_p
mainPanel('cA', [
  dashLine(betaRef),
  {data:P(betaP), borderColor:'#000', borderWidth:2.2, pointRadius:0, fill:false}
], {min:0.535, max:2.1, ticks:betaTicks, fmt:v => v.toFixed(1)}, fr(1,0.5,0.5,0.1), false, 20);

// (b) n_e
mainPanel('cB', [
  dashLine(neRef),
  {data:P(neVals), borderColor:'#000', borderWidth:2.2, pointRadius:0, fill:false}
], {min:2.11, max:3.88, ticks:neTicks, fmt:v => v.toFixed(1)}, fr(1,0.5,0.5,0.1), false, 20);

// (c) D_alpha
mainPanel('cC', [
  {type:'bar', data:daSpikes, backgroundColor:'#000', borderWidth:0, barThickness:1.2, grouped:false},
  {data:dAlpha.map(r => ({x:r[0], y:r[2]})), borderColor:'#000', backgroundColor:'#000', borderWidth:1, pointRadius:0, fill:'+1'},
  {data:dAlpha.map(r => ({x:r[0], y:r[1]})), borderColor:'#000', borderWidth:1, pointRadius:0, fill:false}
], {min:0.1, max:6.5, ticks:daTicks, fmt:v => String(v)}, fr(1,0.5,2,1), false, 20);

// (d) f_ELM
mainPanel('cD', [
  {data:P(fSmooth), borderColor:'#ff0000', borderWidth:3, pointRadius:0, fill:false},
  {data:fElmPts, showLine:false, pointRadius:3, pointBorderWidth:1, pointBorderColor:'#1a1aff', pointBackgroundColor:'rgba(0,0,0,0)', fill:false}
], {min:0, max:5.5, ticks:fTicks, fmt:v => String(v)}, fr(1,0.5,1,0.5), true, 0);

// insets
const inFont = {family:'Liberation Sans', weight:'bold', size:16};
function inset(id, datasets, y, pad, showX, arrow, frame) {
  return new Chart(document.getElementById(id), {
    type: 'line',
    data: {datasets},
    options: {
      responsive: false, animation: false, events: [],
      layout: {padding: pad},
      elements: {line: {tension: 0}},
      plugins: {legend:{display:false}, tooltip:{enabled:false}, frame, arrow},
      scales: {
        x: {type:'linear', min:0, max:1240, display:showX,
            grid:{display:false, drawTicks:false}, border:{display:false},
            ticks:{autoSkip:false, maxRotation:0, padding:3, color:'#000', font:inFont, callback:v => String(v)},
            afterBuildTicks: setTicks(insTimeTicks),
            title:{display:showX, text:'Time (ms)', color:'#000', font:{family:'Liberation Sans', weight:'bold', size:18}, padding:{top:0, bottom:5}},
            afterFit(s){ if (showX) s.height = 57.3; s.paddingLeft = 0; s.paddingRight = 0; }},
        y: {type:'linear', min:y.min, max:y.max,
            grid:{display:false, drawTicks:false}, border:{display:false},
            ticks:{autoSkip:false, padding:6, color:'#000', font:inFont, callback:v => String(v)},
            afterBuildTicks: setTicks(y.ticks),
            afterFit(s){ s.width = 63.3; s.paddingTop = 0; s.paddingBottom = 0; }}
      }
    },
    plugins: [framePlugin, arrowPlugin]
  });
}
const insDash = (yv) => ({data:P([[0, yv],[1240, yv]]), borderColor:'#0000ff', borderWidth:1.2, borderDash:[5,3], pointRadius:0, fill:false});

inset('iA', [
  {data:P(insAFit), borderColor:'#ff0000', borderWidth:2, pointRadius:0, fill:false},
  insDash(insABase),
  {data:P(insA), borderColor:'#000', borderWidth:1.3, pointRadius:0, fill:false}
], {min:60, max:250, ticks:insATicks}, {left:0, right:6.3, top:21.7, bottom:13}, false, arrowA,
  {lw:1.2, tw:1, maj:5, min:3, xMajor:300, xMinor:100, yMajor:50, yMinor:25});

inset('iB', [
  {data:P(insBFit), borderColor:'#ff0000', borderWidth:2, pointRadius:0, fill:false},
  insDash(insBBase),
  {data:P(insB), borderColor:'#000', borderWidth:1.3, pointRadius:0, fill:false}
], {min:250, max:750, ticks:insBTicks}, {left:0, right:6.3, top:12.3, bottom:0}, true, arrowB,
  {lw:1.2, tw:1, maj:5, min:3, xMajor:300, xMinor:100, yMajor:100, yMinor:50});
</script>
</body></html>
